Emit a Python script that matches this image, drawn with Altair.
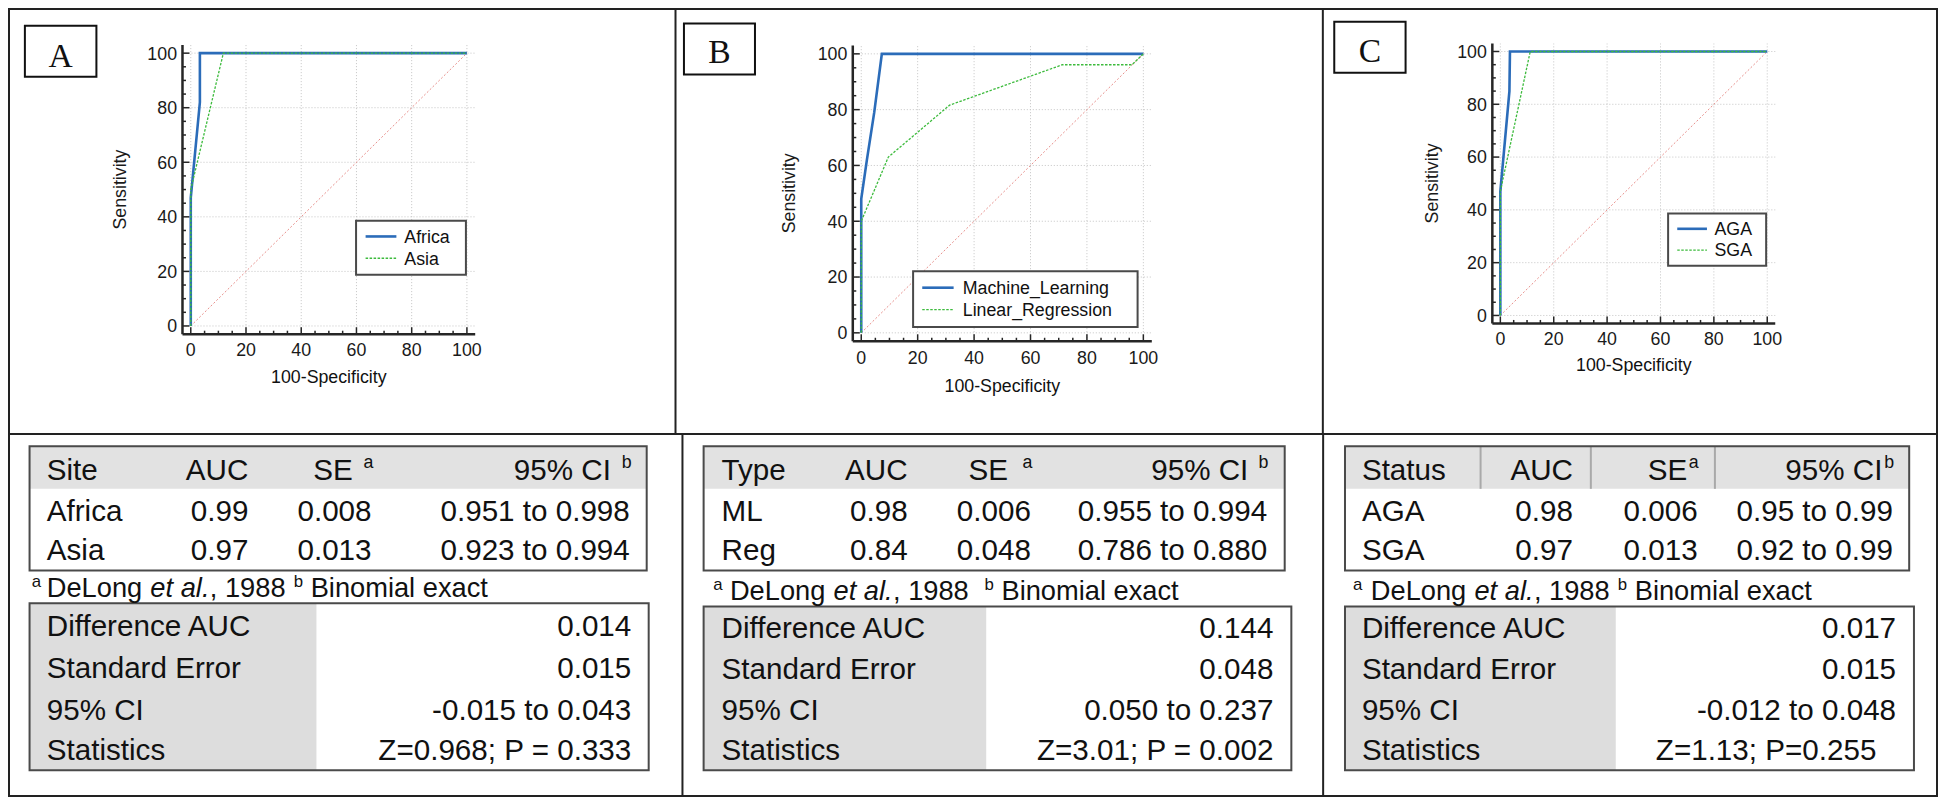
import altair as alt
import pandas as pd

# ---------------- chart content ----------------
panel_labels = ["A", "B", "C"]
x_title = "100-Specificity"
y_title = "Sensitivity"
axis_values = [0, 20, 40, 60, 80, 100]

legend_A = ["Africa", "Asia"]
legend_B = ["Machine_Learning", "Linear_Regression"]
legend_C = ["AGA", "SGA"]

africa_fpr = [0, 0, 3.3, 3.3, 100]
africa_sens = [0, 47, 82, 100, 100]
asia_fpr = [0, 0, 11.8, 100]
asia_sens = [0, 50, 100, 100]
ml_fpr = [0, 0, 2.0, 4.6, 7.3, 100]
ml_sens = [0, 48, 62, 79, 100, 100]
lr_fpr = [0, 0, 9.6, 31.3, 71.3, 96.0, 100]
lr_sens = [0, 40, 63, 81.6, 96.1, 96.1, 100]
aga_fpr = [0, 0, 3.4, 3.6, 100]
aga_sens = [0, 47, 85, 100, 100]
sga_fpr = [0, 0, 11.2, 100]
sga_sens = [0, 47, 100, 100]
chance_fpr = [0, 100]
chance_sens = [0, 100]

first_col_heads = ["Site", "Type", "Status"]
col_heads = ["AUC", "SE", "95% CI"]
col_head_sups = ["", "a", "b"]
rows_A = [["Africa", "0.99", "0.008", "0.951 to 0.998"],
          ["Asia", "0.97", "0.013", "0.923 to 0.994"]]
rows_B = [["ML", "0.98", "0.006", "0.955 to 0.994"],
          ["Reg", "0.84", "0.048", "0.786 to 0.880"]]
rows_C = [["AGA", "0.98", "0.006", "0.95 to 0.99"],
          ["SGA", "0.97", "0.013", "0.92 to 0.99"]]
comp_labels = ["Difference AUC", "Standard Error", "95% CI", "Statistics"]
comp_A = ["0.014", "0.015", "-0.015 to 0.043", "Z=0.968; P = 0.333"]
comp_B = ["0.144", "0.048", "0.050 to 0.237", "Z=3.01; P = 0.002"]
comp_C = ["0.017", "0.015", "-0.012 to 0.048", "Z=1.13; P=0.255"]
foot_marks = ["a", "b"]
foot_author = "DeLong "
foot_etal = "et al."
foot_year = [", 1988 ", ", 1988  ", ", 1988 "]
foot_method = " Binomial exact"

# ---------------- layout (reference pixel geometry) ----------------
W, H = 1930, 789
SX = (W - 2) / (1942 - 1)
SY = (H - 2) / (803 - 1)
FS = (SX + SY) / 2
FONT = "Liberation Sans"
SERIF = "Liberation Serif"
INK = "#111111"
LABEL_INK = "#1a1a1a"
FRAME = "#222222"
BOXLINE = "#4a4a4a"
BLUE = "#2b6cb9"
GREEN = "#3dbb3d"
PINK = "#e8908c"
GRID = "#c4c4c4"
AXIS = "#262626"


def px(x):
    return round(1 + (x - 1) * SX, 2)


def py(y):
    return round(1 + (y - 1) * SY, 2)


def bl(yc, fs):
    return yc + 0.358 * fs


ARIAL = {" ": 278, "a": 556, "b": 556, "c": 500, "e": 556, "g": 556, "i": 222,
         "l": 222, "m": 833, "n": 556, "o": 556, "t": 278, "x": 500, "D": 722,
         "L": 556, "B": 667, ",": 278, ".": 278}


def tw(s, fs):
    return sum(ARIAL.get(c, 556) for c in s) * fs / 1000.0


ROC_GEOM = [
    dict(x0=184.0, x100=462.0, y0=324.0, y100=46.0, box=(17, 18, 89, 70), label_base=60.3,
         xlab_y=348.0, xtitle_y=376.0, ytitle_x=113.6,
         legend=(350.4, 216.7, 461.0, 271.7), leg_rows=(232.8, 255.0), leg_line=(360.0, 391.0), leg_text=399.0),
    dict(x0=859.0, x100=1143.0, y0=331.0, y100=46.7, box=(680.5, 15.7, 752.0, 67.7), label_base=56.5,
         xlab_y=356.7, xtitle_y=385.0, ytitle_x=787.0,
         legend=(911.2, 268.3, 1137.2, 325.0), leg_rows=(285.0, 307.3), leg_line=(920.4, 952.0), leg_text=961.2),
    dict(x0=1502.4, x100=1771.1, y0=313.3, y100=44.3, box=(1335.2, 14.0, 1407.0, 66.0), label_base=54.8,
         xlab_y=336.7, xtitle_y=363.3, ytitle_x=1434.6,
         legend=(1671.3, 209.3, 1770.0, 262.7), leg_rows=(225.0, 246.7), leg_line=(1680.5, 1710.4), leg_text=1718.0),
]

TABLE_GEOM = [
    dict(top=(21.7, 446.7, 643.0, 573.3), head_bottom=490.0, bottom=(21.7, 606.7, 645.0, 776.7), shade_right=310.5,
         left=39.0, col_right=[242.0, 366.0, 626.0], head_right=[242.0, 347.0, 607.0], sup_left=[None, 358.0, 618.0],
         row_y=[470.0, 511.7, 551.7], foot_y=590.0, foot_sup_x=24.0, foot_x=39.0,
         comp_y=[629.0, 671.7, 714.3, 756.0], comp_right=[627.5, 627.5, 627.5, 627.5], seps=[]),
    dict(top=(700.3, 446.7, 1285.3, 573.3), head_bottom=490.0, bottom=(700.3, 610.0, 1292.0, 776.7), shade_right=984.8,
         left=718.4, col_right=[905.7, 1029.8, 1267.6], head_right=[905.7, 1006.7, 1248.7], sup_left=[None, 1021.4, 1259.0],
         row_y=[470.0, 511.7, 551.7], foot_y=593.0, foot_sup_x=710.0, foot_x=726.8,
         comp_y=[631.7, 672.7, 715.0, 756.0], comp_right=[1274.0, 1274.0, 1274.0, 1274.0], seps=[]),
    dict(top=(1346.0, 446.7, 1914.0, 573.3), head_bottom=490.0, bottom=(1346.0, 610.0, 1918.8, 776.7), shade_right=1618.6,
         left=1363.0, col_right=[1575.5, 1701.0, 1897.6], head_right=[1575.5, 1690.5, 1887.0], sup_left=[None, 1692.0, 1889.0],
         row_y=[470.0, 511.7, 551.7], foot_y=593.0, foot_sup_x=1354.0, foot_x=1372.0,
         comp_y=[631.7, 672.7, 715.0, 756.0], comp_right=[1900.8, 1900.8, 1900.8, 1881.0], seps=[1482.5, 1593.5, 1718.4]),
]


# ---------------- helpers ----------------
def rects(boxes, **mark):
    df = pd.DataFrame([{"x": px(a), "x2": px(c), "y": py(b), "y2": py(d)} for (a, b, c, d) in boxes])
    return alt.Chart(df).mark_rect(**mark).encode(
        x=alt.X("x:Q", scale=None, axis=None), x2="x2:Q",
        y=alt.Y("y:Q", scale=None, axis=None), y2="y2:Q")


def rules(segs, **mark):
    df = pd.DataFrame([{"x": px(a), "x2": px(c), "y": py(b), "y2": py(d)} for (a, b, c, d) in segs])
    return alt.Chart(df).mark_rule(**mark).encode(
        x=alt.X("x:Q", scale=None, axis=None), x2="x2:Q",
        y=alt.Y("y:Q", scale=None, axis=None), y2="y2:Q")


texts = {}


def put(key, t, x, y, fs):
    texts.setdefault(key, []).append({"t": t, "x": px(x), "y": py(y), "s": round(fs * FS, 2)})


L = ("left", FONT, "normal")
R = ("right", FONT, "normal")
I = ("left", FONT, "italic")
C = ("center", FONT, "normal")
S = ("center", SERIF, "normal")

curves_by_panel = [
    [(africa_fpr, africa_sens), (asia_fpr, asia_sens)],
    [(ml_fpr, ml_sens), (lr_fpr, lr_sens)],
    [(aga_fpr, aga_sens), (sga_fpr, sga_sens)],
]
legends = [legend_A, legend_B, legend_C]
STYLES = [dict(color=BLUE, strokeWidth=2.6), dict(color=GREEN, strokeWidth=1.3, strokeDash=[2.5, 1.5])]
axis_segments = []
ytitles = []


def roc_panel(k):
    g = ROC_GEOM[k]

    def lin(a0, a100, v):
        return a0 + (a100 - a0) * v / 100.0

    rxl, rxh = lin(g["x0"], g["x100"], -3), lin(g["x0"], g["x100"], 103)
    ryl, ryh = lin(g["y0"], g["y100"], -3), lin(g["y0"], g["y100"], 103)
    xl, xh, yl, yh = px(rxl), px(rxh), py(ryl), py(ryh)
    xs = alt.Scale(domain=[-3, 103], range=[xl, xh], nice=False, zero=False)
    ys = alt.Scale(domain=[-3, 103], range=[yl, yh], nice=False, zero=False)

    # axis lines (drawn later on top), titles
    axis_segments.append((rxl, ryl, rxh, ryl))
    axis_segments.append((rxl, ryl, rxl, ryh))
    put(C, x_title, (rxl + rxh) / 2, bl(g["xtitle_y"], 18), 18)
    ytitles.append({"t": y_title, "x": px(g["ytitle_x"]), "y": round((yl + yh) / 2, 2)})

    grid_df = pd.DataFrame({"v": axis_values})
    minor_df = pd.DataFrame({"v": [v for v in range(0, 101, 5) if v % 20]})
    layers = [
        alt.Chart(grid_df).mark_rule(color=GRID, strokeWidth=1, strokeDash=[1, 2]).encode(
            x=alt.X("v:Q", scale=xs, axis=None), y=alt.value(yl), y2=alt.value(yh)),
        alt.Chart(grid_df).mark_rule(color=GRID, strokeWidth=1, strokeDash=[1, 2]).encode(
            y=alt.Y("v:Q", scale=ys, axis=None), x=alt.value(xl), x2=alt.value(xh)),
    ]
    for df, ln in ((grid_df, 7.0), (minor_df, 3.5)):
        layers.append(alt.Chart(df).mark_rule(color=AXIS, strokeWidth=1.5).encode(
            x=alt.X("v:Q", scale=xs, axis=None), y=alt.value(yl), y2=alt.value(round(yl - ln * SY, 2))))
        layers.append(alt.Chart(df).mark_rule(color=AXIS, strokeWidth=1.5).encode(
            y=alt.Y("v:Q", scale=ys, axis=None), x=alt.value(xl), x2=alt.value(round(xl + ln * SX, 2))))
    # tick labels placed through the panel scales
    layers.append(alt.Chart(grid_df).mark_text(
        align="center", baseline="alphabetic", font=FONT, fontSize=round(18 * FS, 2), color=LABEL_INK).encode(
        x=alt.X("v:Q", scale=xs, axis=None), y=alt.value(py(bl(g["xlab_y"], 18))),
        text=alt.Text("v:Q", format="d")))
    layers.append(alt.Chart(grid_df).mark_text(
        align="right", baseline="alphabetic", font=FONT, fontSize=round(18 * FS, 2), color=LABEL_INK,
        dy=round(0.358 * 18 * FS, 2)).encode(
        y=alt.Y("v:Q", scale=ys, axis=None), x=alt.value(px(rxl - 5.5)),
        text=alt.Text("v:Q", format="d")))

    def line_df(fx, fy):
        return pd.DataFrame({"x": fx, "y": fy, "i": list(range(len(fx)))})

    layers.append(alt.Chart(line_df(chance_fpr, chance_sens)).mark_line(
        color=PINK, strokeWidth=1, strokeDash=[2, 2]).encode(
        x=alt.X("x:Q", scale=xs, axis=None), y=alt.Y("y:Q", scale=ys, axis=None), order="i:Q"))
    for (fx, fy), st in zip(curves_by_panel[k], STYLES):
        layers.append(alt.Chart(line_df(fx, fy)).mark_line(**st).encode(
            x=alt.X("x:Q", scale=xs, axis=None), y=alt.Y("y:Q", scale=ys, axis=None), order="i:Q"))
    return alt.layer(*layers)


# ---------------- assemble ----------------
layers = []

# tables: shading, borders, separators
layers.append(rects([(g["top"][0], g["top"][1], g["top"][2], g["head_bottom"]) for g in TABLE_GEOM],
                    fill="#e2e2e2"))
layers.append(rects([(g["bottom"][0], g["bottom"][1], g["shade_right"], g["bottom"][3]) for g in TABLE_GEOM],
                    fill="#dddddd"))
layers.append(rules([(s, TABLE_GEOM[2]["top"][1], s, TABLE_GEOM[2]["head_bottom"]) for s in TABLE_GEOM[2]["seps"]],
                    color="#a9a9a9", strokeWidth=2))
layers.append(rects([g["top"] for g in TABLE_GEOM] + [g["bottom"] for g in TABLE_GEOM],
                    fillOpacity=0, stroke=BOXLINE, strokeWidth=2))

# table texts
for k, (rows, comp) in enumerate([(rows_A, comp_A), (rows_B, comp_B), (rows_C, comp_C)]):
    g = TABLE_GEOM[k]
    hy = bl(g["row_y"][0], 30)
    put(L, first_col_heads[k], g["left"], hy, 30)
    for j, h in enumerate(col_heads):
        put(R, h, g["head_right"][j], hy, 30)
        if col_head_sups[j]:
            put(L, col_head_sups[j], g["sup_left"][j], hy - 12, 18)
    for r, row in enumerate(rows):
        y = bl(g["row_y"][r + 1], 30)
        put(L, row[0], g["left"], y, 30)
        for j in range(1, 4):
            put(R, row[j], g["col_right"][j - 1], y, 30)
    for r, lab in enumerate(comp_labels):
        y = bl(g["comp_y"][r], 30)
        put(L, lab, g["left"], y, 30)
        put(R, comp[r], g["comp_right"][r], y, 30)
    fy = bl(g["foot_y"], 27.6)
    put(L, foot_marks[0], g["foot_sup_x"], fy - 10, 17)
    x = g["foot_x"]
    for s, key, fs, dy in ((foot_author, L, 27.6, 0), (foot_etal, I, 27.6, 0), (foot_year[k], L, 27.6, 0),
                           (foot_marks[1], L, 17, -10), (foot_method, L, 27.6, 0)):
        lead = len(s) - len(s.lstrip())
        put(key, s.strip(), x + tw(s[:lead], fs), fy + dy, fs)
        x += tw(s, fs)

# ROC panels
for k in range(3):
    layers.append(roc_panel(k))
layers.append(rules(axis_segments, color=AXIS, strokeWidth=2.5))
layers.append(alt.Chart(pd.DataFrame(ytitles)).mark_text(
    align="center", baseline="middle", angle=270, font=FONT, fontSize=round(18 * FS, 2), color=LABEL_INK).encode(
    x=alt.X("x:Q", scale=None, axis=None), y=alt.Y("y:Q", scale=None, axis=None), text="t:N"))

# panel label boxes and legend boxes
layers.append(rects([g["box"] for g in ROC_GEOM], fill="white", stroke="#111111", strokeWidth=2))
layers.append(rects([g["legend"] for g in ROC_GEOM], fill="white", stroke=BOXLINE, strokeWidth=2))
for e, st in enumerate(STYLES):
    layers.append(rules([(g["leg_line"][0], g["leg_rows"][e], g["leg_line"][1], g["leg_rows"][e]) for g in ROC_GEOM],
                        **st))
for k, g in enumerate(ROC_GEOM):
    for e, name in enumerate(legends[k]):
        put(L, name, g["leg_text"], bl(g["leg_rows"][e], 18), 18)
    bx = g["box"]
    put(S, panel_labels[k], (bx[0] + bx[2]) / 2, g["label_base"], 34)

# frame
layers.append(rects([(1, 1, 1942, 803)], fillOpacity=0, stroke=FRAME, strokeWidth=2))
layers.append(rules([(1, 434, 1942, 434), (672, 1, 672, 434), (1323.7, 1, 1323.7, 434),
                     (679, 434, 679, 803), (1324, 434, 1324, 803)], color=FRAME, strokeWidth=2))

for (align, font, style), recs in texts.items():
    layers.append(alt.Chart(pd.DataFrame(recs)).mark_text(
        align=align, baseline="alphabetic", font=font, fontStyle=style, color=INK).encode(
        x=alt.X("x:Q", scale=None, axis=None),
        y=alt.Y("y:Q", scale=None, axis=None),
        text="t:N",
        size=alt.Size("s:Q", scale=None, legend=None)))

chart = alt.layer(*layers).resolve_scale(x="independent", y="independent").properties(
    width=W, height=H, padding=0, background="white",
    autosize=alt.AutoSizeParams(type="none"),
).configure_view(strokeOpacity=0)

chart.save("out.html", embed_options={"renderer": "svg", "actions": False})
